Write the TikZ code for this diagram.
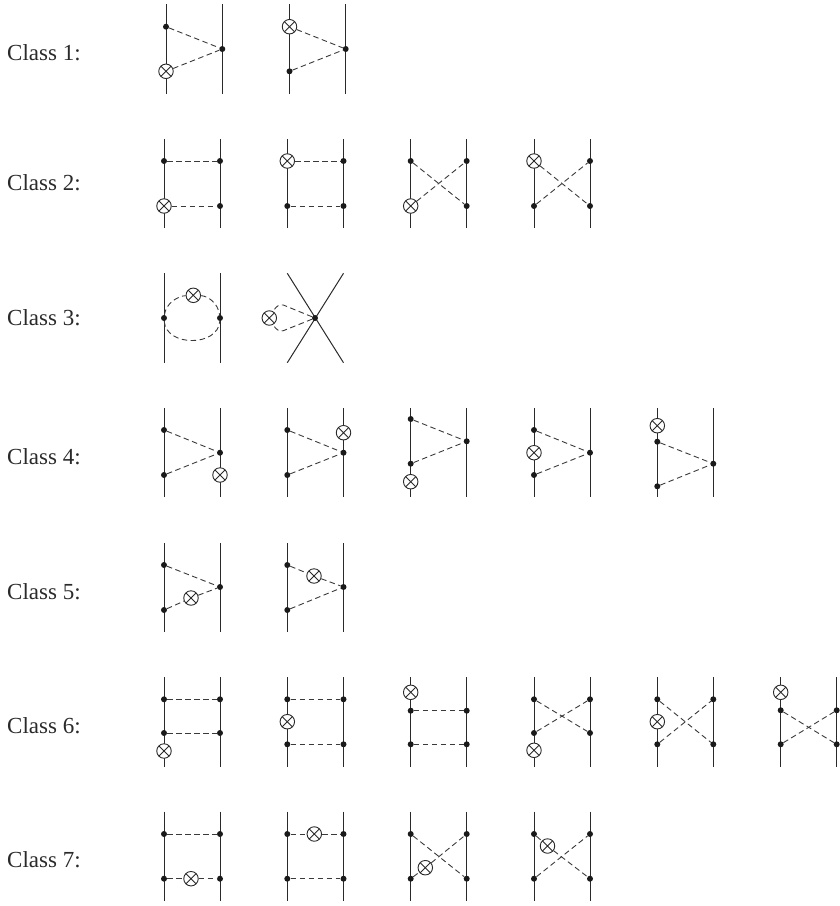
\documentclass[tikz,border=0pt]{standalone}
\usepackage{fontspec}
\setmainfont{Liberation Serif}
\usetikzlibrary{positioning}
\definecolor{fermline}{HTML}{2A2A2A}
\definecolor{scalline}{HTML}{3A3A3A}
\definecolor{vtxfill}{HTML}{1A1A1A}
\tikzset{
  fermion/.style = {draw=fermline, line width=1.0pt},
  scalar/.style  = {draw=scalline, line width=0.9pt, dash pattern=on 5.5pt off 3.5pt},
  vtx/.style     = {circle, fill=vtxfill, minimum size=6pt, inner sep=0pt},
  xins/.style    = {circle, draw=fermline, fill=white, line width=0.9pt, minimum size=14.5pt, inner sep=0pt,
                    path picture={\draw[line width=0.9pt] (path picture bounding box.south west) -- (path picture bounding box.north east)
                                  (path picture bounding box.north west) -- (path picture bounding box.south east);}},
  lbl/.style     = {anchor=base west, font=\fontsize{23}{25}\selectfont, text=fermline, inner sep=0pt},
}
\begin{document}
\begin{tikzpicture}[x=1pt, y=-1pt]
	\useasboundingbox (0,0) rectangle (839,906);
	% class labels
	\foreach \n/\y in {1/60.7,2/190,3/325,4/464,5/599,6/733,7/867}{\node[lbl] (class\n) at (7,\y) {Class \n:};}
	% fermion lines of every diagram
	\foreach \d/\xa/\xb/\ya/\yb in {a1/166/222.3/4/94,a2/289.5/345.7/4/94,
		b1/164/220/139.3/228.3,b2/287.3/343.5/139.3/228.3,b3/410.7/466.7/139.3/228.3,b4/534/590/139.3/228.3,
		c1/164/220/273.3/362.7,
		d1/164/220/408.3/497.3,d2/287.3/343.5/408.3/497.3,d3/410.7/466.7/408.3/497.3,d4/534/590/408.3/497.3,d5/657.3/713.3/408.3/497.3,
		e1/164/220/543/632,e2/287.3/343.5/543/632,
		f1/164/220/677.3/766.7,f2/287.3/343.5/677.3/766.7,f3/410.7/466.7/677.3/766.7,f4/534/590/677.3/766.7,f5/657.3/713.3/677.3/766.7,f6/780.7/836.7/677.3/766.7,
		g1/164/220/811.7/901,g2/287.3/343.5/811.7/901,g3/410.7/466.7/811.7/901,g4/534/590/811.7/901}{
		\coordinate (\d lt) at (\xa,\ya);
		\coordinate (\d lb) at (\xa,\yb);
		\coordinate (\d rt) at (\xb,\ya);
		\coordinate (\d rb) at (\xb,\yb);
		\draw[fermion] (\d lt) -- (\d lb);
		\draw[fermion] (\d rt) -- (\d rb);
	}
	% the two crossing lines of the contact diagram
	\coordinate (c2a) at (287.3,273.3);
	\coordinate (c2b) at (343.5,362.7);
	\coordinate (c2c) at (343.5,273.3);
	\coordinate (c2d) at (287.3,362.7);
	\draw[fermion] (c2a) -- (c2b);
	\draw[fermion] (c2c) -- (c2d);
	% vertices
	\foreach \v/\x/\y in {a1t/166/26.7,a1m/222.3/49,a2m/345.7/49,a2b/289.5/71.3,
		b1lt/164/161,b1rt/220/161,b1rb/220/206,b2rt/343.5/161,b2lb/287.3/206,b2rb/343.5/206,
		b3lt/410.7/161,b3rt/466.7/161,b3rb/466.7/206,b4rt/590/161,b4lb/534/206,b4rb/590/206,
		c1l/164/318,c1r/220/318,c2m/315/318,
		d1t/164/430,d1b/164/475,d1m/220/452.7,d2t/287.3/430,d2b/287.3/475,d2m/343.5/452.7,
		d3t/410.7/419,d3b/410.7/463.7,d3m/466.7/441.3,d4t/534/430,d4b/534/475,d4m/590/452.7,
		d5t/657.3/441.7,d5b/657.3/486.3,d5m/713.3/463.7,
		e1t/164/565,e1b/164/610,e1m/220/587,e2t/287.3/565,e2b/287.3/610,e2m/343.5/587,
		f1lt/164/699.3,f1rt/220/699.3,f1lb/164/733,f1rb/220/733,
		f2lt/287.3/699.3,f2rt/343.5/699.3,f2lb/287.3/744.3,f2rb/343.5/744.3,
		f3lt/410.7/710.7,f3rt/466.7/710.7,f3lb/410.7/744.3,f3rb/466.7/744.3,
		f4lt/534/699.3,f4rt/590/699.3,f4lb/534/733,f4rb/590/733,
		f5lt/657.3/699.3,f5rt/713.3/699.3,f5lb/657.3/744.3,f5rb/713.3/744.3,
		f6lt/780.7/710.3,f6rt/836.7/710.3,f6lb/780.7/744.3,f6rb/836.7/744.3,
		g1lt/164/834,g1rt/220/834,g1lb/164/878.7,g1rb/220/878.7,
		g2lt/287.3/834,g2rt/343.5/834,g2lb/287.3/878.7,g2rb/343.5/878.7,
		g3lt/410.7/834,g3rt/466.7/834,g3lb/410.7/878.7,g3rb/466.7/878.7,
		g4lt/534/834,g4rt/590/834,g4lb/534/878.7,g4rb/590/878.7}{\node[vtx] (\v) at (\x,\y) {};}
	% insertions
	\foreach \v/\x/\y in {a1x/166/71.3,a2x/289.5/26.7,b1x/164/206,b2x/287.3/161,b3x/410.7/206,b4x/534/161,
		c1x/193.3/295.3,c2x/269.3/318,
		d1x/220/475,d2x/343.5/432.7,d3x/410.7/481.7,d4x/534/452.7,d5x/657.3/425.7,
		e1x/191/598,e2x/314/576,
		f1x/164/751,f2x/287.3/721.7,f3x/410.7/692.3,f4x/534/750.3,f5x/657.3/721.7,f6x/780.7/692.3,
		g1x/191/878.7,g2x/314.3/834,g3x/425.3/867.7,g4x/547.5/846}{\node[xins] (\v) at (\x,\y) {};}
	% scalar lines
	\foreach \a/\b in {a1t/a1m,a1x/a1m,a2x/a2m,a2b/a2m,
		b1lt/b1rt,b1x/b1rb,b2x/b2rt,b2lb/b2rb,b3lt/b3rb,b3x/b3rt,b4x/b4rb,b4lb/b4rt,
		d1t/d1m,d1b/d1m,d2t/d2m,d2b/d2m,d3t/d3m,d3b/d3m,d4t/d4m,d4b/d4m,d5t/d5m,d5b/d5m,
		e1t/e1m,e1b/e1x,e1x/e1m,e2t/e2x,e2x/e2m,e2b/e2m,
		f1lt/f1rt,f1lb/f1rb,f2lt/f2rt,f2lb/f2rb,f3lt/f3rt,f3lb/f3rb,
		f4lt/f4rb,f4lb/f4rt,f5lt/f5rb,f5lb/f5rt,f6lt/f6rb,f6lb/f6rt,
		g1lt/g1rt,g1lb/g1x,g1x/g1rb,g2lt/g2x,g2x/g2rt,g2lb/g2rb,
		g3lt/g3rb,g3lb/g3x,g3x/g3rt,g4lt/g4x,g4x/g4rb,g4lb/g4rt}{\draw[scalar] (\a) -- (\b);}
	% bubble
	\draw[scalar] (c1l) .. controls (166,303) and (178,296) .. (c1x);
	\draw[scalar] (c1x) .. controls (208,296) and (218,303) .. (c1r);
	\draw[scalar] (c1l) .. controls (166,347) and (218,347) .. (c1r);
	% tadpole
	\coordinate (c2u) at (283.3,305);
	\coordinate (c2l) at (283.3,330.7);
	\draw[scalar] (c2m) -- (c2u) .. controls (279,304) and (276,306.5) .. (c2x);
	\draw[scalar] (c2m) -- (c2l) .. controls (279,332) and (276,329.5) .. (c2x);
\end{tikzpicture}
\end{document}
